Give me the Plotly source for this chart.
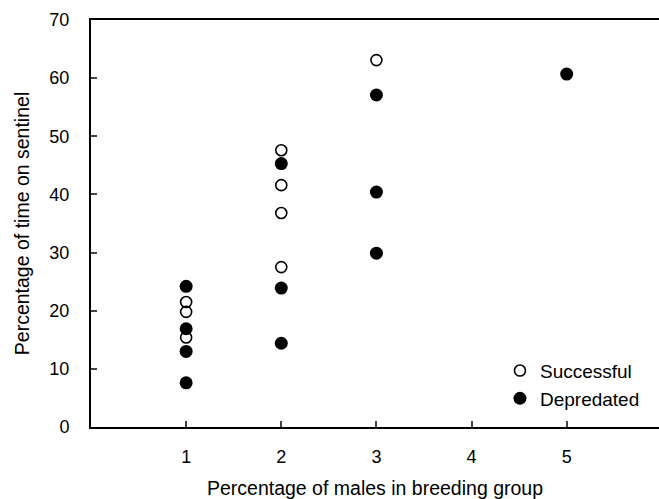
import plotly.graph_objects as go

succ_x = [1, 1, 1, 2, 2, 2, 2, 3]
succ_y = [21.5, 19.8, 15.4, 47.6, 41.6, 36.8, 27.5, 63.1]
dep_x = [1, 1, 1, 1, 2, 2, 2, 3, 3, 3, 5]
dep_y = [24.2, 16.9, 13.0, 7.6, 45.3, 23.9, 14.4, 57.1, 40.4, 29.9, 60.7]

x_ticks = [1, 2, 3, 4, 5]
y_ticks = [0, 10, 20, 30, 40, 50, 60, 70]

fig = go.Figure()
fig.add_trace(go.Scatter(x=succ_x, y=succ_y, mode="markers", name="Successful",
                         marker=dict(symbol="circle-open", size=11, color="black",
                                     line=dict(width=1.6, color="black")), cliponaxis=False))
fig.add_trace(go.Scatter(x=dep_x, y=dep_y, mode="markers", name="Depredated",
                         marker=dict(symbol="circle", size=13, color="black"), cliponaxis=False))

font = "Liberation Sans, Arial, sans-serif"
fig.update_layout(
    width=659, height=499,
    margin=dict(l=91, r=0, t=20, b=72),
    plot_bgcolor="white", paper_bgcolor="white",
    font=dict(family=font, color="black"),
    showlegend=True,
    legend=dict(x=0.72, y=0.185, xanchor="left", yanchor="top",
                font=dict(size=19, family=font), bgcolor="rgba(0,0,0,0)",
                itemwidth=30, tracegroupgap=0),
    xaxis=dict(range=[0, 5.97], tickvals=x_ticks, ticks="inside", ticklen=6, tickwidth=1.5,
               showline=True, linecolor="black", linewidth=2, mirror=True, showgrid=False,
               zeroline=False, tickfont=dict(size=18, family=font), ticklabelstandoff=12,
               automargin=False,
               title=dict(text="Percentage of males in breeding group", font=dict(size=19.5, family=font), standoff=16)),
    yaxis=dict(range=[0, 70], tickvals=y_ticks, ticks="inside", ticklen=6, tickwidth=1.5,
               showline=True, linecolor="black", linewidth=2, showgrid=False, zeroline=False,
               tickfont=dict(size=18, family=font), ticklabelstandoff=16, automargin=False,
               title=dict(text="Percentage of time on sentinel", font=dict(size=19.5, family=font), standoff=15)),
)
fig.write_html("out.html")
